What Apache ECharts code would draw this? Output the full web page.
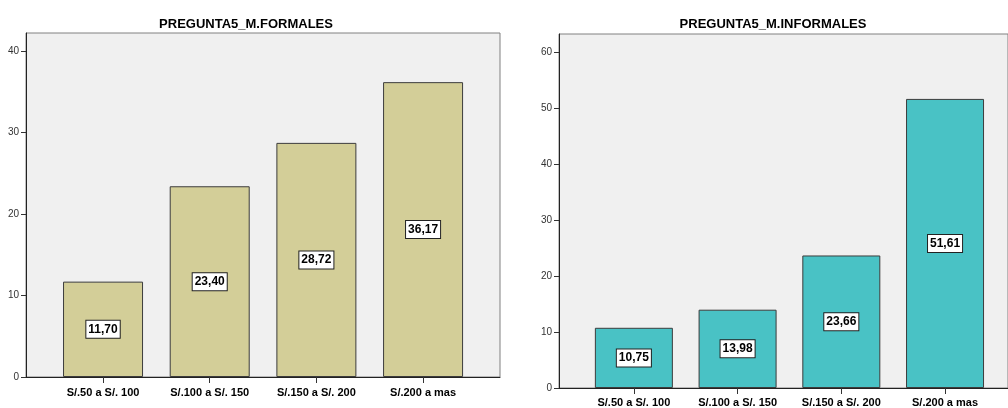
<!DOCTYPE html>
<html>
<head>
<meta charset="utf-8">
<script src="https://cdn.jsdelivr.net/npm/echarts@6/dist/echarts.min.js"></script>
</head>
<body style="margin:0;background:#fff">
<div id="main" style="width:1008px;height:408px"></div>
<script>
// datos
var categorias = ['S/.50 a S/. 100', 'S/.100 a S/. 150', 'S/.150 a S/. 200', 'S/.200 a mas'];
var formales = [11.70, 23.40, 28.72, 36.17];
var informales = [10.75, 13.98, 23.66, 51.61];
var titulos = ['PREGUNTA5_M.FORMALES', 'PREGUNTA5_M.INFORMALES'];

var fuente = 'Liberation Sans, Arial, sans-serif';
var fuenteEstrecha = 'Liberation Sans Narrow, Arial Narrow, Liberation Sans, sans-serif';
var chart = echarts.init(document.getElementById('main'));

function etiqueta(v) {
    return v.toFixed(2).replace('.', ',');
}

var etiquetaBarra = {
    show: true, position: 'inside',
    formatter: function (p) { return etiqueta(p.value); },
    fontFamily: fuenteEstrecha, fontSize: 12, fontWeight: 'bold', color: '#000',
    backgroundColor: '#fff', borderColor: '#222', borderWidth: 1, padding: [3, 2, 2, 2]
};

// grid 0/2 = marco (eje y visible), grid 1/3 = barras
var option = {
    animation: false,
    title: [
        { text: titulos[0], left: 241, top: 13, textAlign: 'center',
          textStyle: { fontFamily: fuente, fontSize: 13, fontWeight: 'bold', color: '#000' } },
        { text: titulos[1], left: 768, top: 13, textAlign: 'center',
          textStyle: { fontFamily: fuente, fontSize: 13, fontWeight: 'bold', color: '#000' } }
    ],
    grid: [
        { left: 26, top: 33, width: 474, height: 344, show: true, backgroundColor: '#f0f0f0', borderColor: '#808080', borderWidth: 1 },
        { left: 49.7, top: 33, width: 426.7, height: 344 },
        { left: 559, top: 34, width: 452, height: 354, show: true, backgroundColor: '#f0f0f0', borderColor: '#808080', borderWidth: 1 },
        { left: 582, top: 34, width: 414.9, height: 354 }
    ],
    xAxis: [
        { gridIndex: 0, type: 'value', min: 0, max: 1, axisLine: { show: true, lineStyle: { color: '#222' } },
          axisTick: { show: false }, axisLabel: { show: false }, splitLine: { show: false } },
        { gridIndex: 1, type: 'category', data: categorias, axisLine: { show: false },
          axisTick: { show: true, alignWithLabel: true, length: 6, lineStyle: { color: '#333' } },
          axisLabel: { margin: 10, fontFamily: fuente, fontSize: 11, fontWeight: 'bold', color: '#000' } },
        { gridIndex: 2, type: 'value', min: 0, max: 1, axisLine: { show: true, lineStyle: { color: '#222' } },
          axisTick: { show: false }, axisLabel: { show: false }, splitLine: { show: false } },
        { gridIndex: 3, type: 'category', data: categorias, axisLine: { show: false },
          axisTick: { show: true, alignWithLabel: true, length: 6, lineStyle: { color: '#333' } },
          axisLabel: { margin: 9, fontFamily: fuente, fontSize: 11, fontWeight: 'bold', color: '#000' } }
    ],
    yAxis: [
        { gridIndex: 0, type: 'value', min: 0, max: 42.2, interval: 10,
          axisLine: { show: true, lineStyle: { color: '#222' } },
          axisTick: { show: true, length: 5, lineStyle: { color: '#333' } },
          axisLabel: { margin: 7, fontFamily: fuente, fontSize: 10, color: '#333', showMaxLabel: false },
          splitLine: { show: false } },
        { gridIndex: 1, type: 'value', min: 0, max: 42.2, show: false, splitLine: { show: false } },
        { gridIndex: 2, type: 'value', min: 0, max: 63.2, interval: 10,
          axisLine: { show: true, lineStyle: { color: '#222' } },
          axisTick: { show: true, length: 5, lineStyle: { color: '#333' } },
          axisLabel: { margin: 7, fontFamily: fuente, fontSize: 10, color: '#333', showMaxLabel: false },
          splitLine: { show: false } },
        { gridIndex: 3, type: 'value', min: 0, max: 63.2, show: false, splitLine: { show: false } }
    ],
    series: [
        {
            type: 'bar', xAxisIndex: 1, yAxisIndex: 1, data: formales, barWidth: 80,
            itemStyle: { color: '#d3ce98', borderColor: '#3c3c3c', borderWidth: 1 },
            label: etiquetaBarra
        },
        {
            type: 'bar', xAxisIndex: 3, yAxisIndex: 3, data: informales, barWidth: 78,
            itemStyle: { color: '#49c2c5', borderColor: '#3c3c3c', borderWidth: 1 },
            label: etiquetaBarra
        }
    ]
};

chart.setOption(option);
</script>
</body>
</html>
